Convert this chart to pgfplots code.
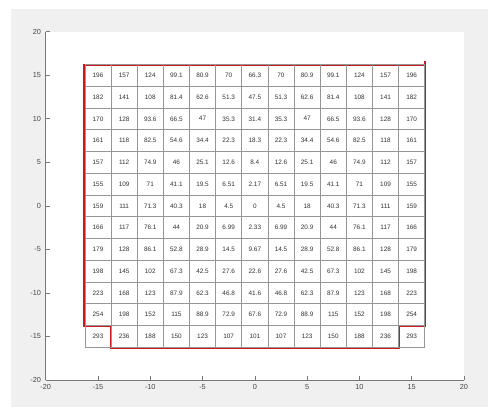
\documentclass[border=0pt]{standalone}
\usepackage{pgfplots}
\pgfplotsset{compat=1.18}
\usepackage{fontspec}
\setmainfont{Liberation Sans}

\definecolor{figbg}{RGB}{240,240,240}
\definecolor{cellgray}{RGB}{150,150,150}
\definecolor{axgray}{RGB}{120,120,120}
\definecolor{ticktext}{RGB}{70,70,70}
\definecolor{bndred}{RGB}{205,25,30}

\begin{document}
\begin{tikzpicture}
% figure background (488 x 407 px, 1 px = 0.75pt)
\fill[white] (0,0) rectangle (366pt,305.25pt);
\fill[figbg] (8.25pt,0) rectangle (366pt,298.5pt);
\begin{axis}[
    at={(34.28pt,20.25pt)}, anchor=south west,
    scale only axis,
    width=313.7pt, height=261.2pt,
    xmin=-20, xmax=20, ymin=-20, ymax=20,
    xtick={-20,-15,...,20}, ytick={-20,-15,...,20},
    axis x line*=bottom, axis y line*=left,
    axis line style={axgray, line width=0.5pt, -},
    tick align=inside, major tick length=3pt,
    tick style={axgray, line width=0.5pt},
    tick label style={font=\fontsize{5.5}{6}\selectfont, text=ticktext},
    /pgf/number format/assume math mode=true,
    axis background/.style={fill=white},
    clip=false,
]
% cell values, centre of each cell
\addplot[draw=none, mark=none,
    nodes near coords, point meta=explicit symbolic,
    nodes near coords align=center,
    every node near coord/.style={draw=cellgray, line width=0.6pt,
        minimum width=19.6pt, minimum height=16.33pt, inner sep=0pt,
        font=\fontsize{4.8}{5}\selectfont, text=black!80}]
  table[meta=v, row sep=\\] {
x y v\\
-15 15 196\\ -12.5 15 157\\ -10 15 124\\ -7.5 15 99.1\\ -5 15 80.9\\ -2.5 15 70\\ 0 15 66.3\\ 2.5 15 70\\ 5 15 80.9\\ 7.5 15 99.1\\ 10 15 124\\ 12.5 15 157\\ 15 15 196\\
-15 12.5 182\\ -12.5 12.5 141\\ -10 12.5 108\\ -7.5 12.5 81.4\\ -5 12.5 62.6\\ -2.5 12.5 51.3\\ 0 12.5 47.5\\ 2.5 12.5 51.3\\ 5 12.5 62.6\\ 7.5 12.5 81.4\\ 10 12.5 108\\ 12.5 12.5 141\\ 15 12.5 182\\
-15 10 170\\ -12.5 10 128\\ -10 10 93.6\\ -7.5 10 66.5\\ -5 10 47\\ -2.5 10 35.3\\ 0 10 31.4\\ 2.5 10 35.3\\ 5 10 47\\ 7.5 10 66.5\\ 10 10 93.6\\ 12.5 10 128\\ 15 10 170\\
-15 7.5 161\\ -12.5 7.5 118\\ -10 7.5 82.5\\ -7.5 7.5 54.6\\ -5 7.5 34.4\\ -2.5 7.5 22.3\\ 0 7.5 18.3\\ 2.5 7.5 22.3\\ 5 7.5 34.4\\ 7.5 7.5 54.6\\ 10 7.5 82.5\\ 12.5 7.5 118\\ 15 7.5 161\\
-15 5 157\\ -12.5 5 112\\ -10 5 74.9\\ -7.5 5 46\\ -5 5 25.1\\ -2.5 5 12.6\\ 0 5 8.4\\ 2.5 5 12.6\\ 5 5 25.1\\ 7.5 5 46\\ 10 5 74.9\\ 12.5 5 112\\ 15 5 157\\
-15 2.5 155\\ -12.5 2.5 109\\ -10 2.5 71\\ -7.5 2.5 41.1\\ -5 2.5 19.5\\ -2.5 2.5 6.51\\ 0 2.5 2.17\\ 2.5 2.5 6.51\\ 5 2.5 19.5\\ 7.5 2.5 41.1\\ 10 2.5 71\\ 12.5 2.5 109\\ 15 2.5 155\\
-15 0 159\\ -12.5 0 111\\ -10 0 71.3\\ -7.5 0 40.3\\ -5 0 18\\ -2.5 0 4.5\\ 0 0 0\\ 2.5 0 4.5\\ 5 0 18\\ 7.5 0 40.3\\ 10 0 71.3\\ 12.5 0 111\\ 15 0 159\\
-15 -2.5 166\\ -12.5 -2.5 117\\ -10 -2.5 76.1\\ -7.5 -2.5 44\\ -5 -2.5 20.9\\ -2.5 -2.5 6.99\\ 0 -2.5 2.33\\ 2.5 -2.5 6.99\\ 5 -2.5 20.9\\ 7.5 -2.5 44\\ 10 -2.5 76.1\\ 12.5 -2.5 117\\ 15 -2.5 166\\
-15 -5 179\\ -12.5 -5 128\\ -10 -5 86.1\\ -7.5 -5 52.8\\ -5 -5 28.9\\ -2.5 -5 14.5\\ 0 -5 9.67\\ 2.5 -5 14.5\\ 5 -5 28.9\\ 7.5 -5 52.8\\ 10 -5 86.1\\ 12.5 -5 128\\ 15 -5 179\\
-15 -7.5 198\\ -12.5 -7.5 145\\ -10 -7.5 102\\ -7.5 -7.5 67.3\\ -5 -7.5 42.5\\ -2.5 -7.5 27.6\\ 0 -7.5 22.6\\ 2.5 -7.5 27.6\\ 5 -7.5 42.5\\ 7.5 -7.5 67.3\\ 10 -7.5 102\\ 12.5 -7.5 145\\ 15 -7.5 198\\
-15 -10 223\\ -12.5 -10 168\\ -10 -10 123\\ -7.5 -10 87.9\\ -5 -10 62.3\\ -2.5 -10 46.8\\ 0 -10 41.6\\ 2.5 -10 46.8\\ 5 -10 62.3\\ 7.5 -10 87.9\\ 10 -10 123\\ 12.5 -10 168\\ 15 -10 223\\
-15 -12.5 254\\ -12.5 -12.5 198\\ -10 -12.5 152\\ -7.5 -12.5 115\\ -5 -12.5 88.9\\ -2.5 -12.5 72.9\\ 0 -12.5 67.6\\ 2.5 -12.5 72.9\\ 5 -12.5 88.9\\ 7.5 -12.5 115\\ 10 -12.5 152\\ 12.5 -12.5 198\\ 15 -12.5 254\\
-15 -15 293\\ -12.5 -15 236\\ -10 -15 188\\ -7.5 -15 150\\ -5 -15 123\\ -2.5 -15 107\\ 0 -15 101\\ 2.5 -15 107\\ 5 -15 123\\ 7.5 -15 150\\ 10 -15 188\\ 12.5 -15 236\\ 15 -15 293\\
};
% red boundary
\addplot[bndred, line width=1.4pt, mark=none] coordinates {
    (16.3,16.6) (16.3,-13.8) (13.75,-13.8) (13.75,-16.3)
    (-13.75,-16.3) (-13.75,-13.8) (-16.3,-13.8) (-16.3,16.2) (16.3,16.2)
};
\end{axis}
\end{tikzpicture}
\end{document}
